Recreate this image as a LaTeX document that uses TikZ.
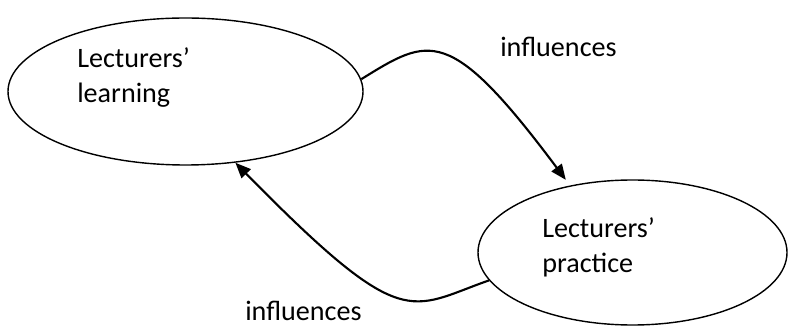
\documentclass[tikz,border=0pt]{standalone}
\usepackage{fontspec}
\setmainfont{Carlito}
\usetikzlibrary{arrows.meta,shapes.geometric}

\begin{document}
\begin{tikzpicture}[
    bubble/.style={
      draw=black,
      ellipse,
      line width=1pt,
      inner sep=0pt
    },
    arr/.style={
      -{Triangle[length=11pt,width=9pt]},
      line width=1.5pt
    },
    lbl/.style={
      font=\fontsize{20}{25}\selectfont,
      align=left,
      anchor=west,
      inner sep=0pt
    }
  ]
  \useasboundingbox (0,0) rectangle (19.7,8.175);

  \node[bubble, minimum width=8.875cm, minimum height=3.675cm] (learning) at (4.6375,5.8875) {};
  \node[bubble, minimum width=7.725cm, minimum height=3.625cm] (practice) at (15.8125,1.8625) {};

  \node[lbl] (learningtext) at (1.925,6.2375) {Lecturers’\\learning};
  \node[lbl] (practicetext) at (13.55,1.9875) {Lecturers’\\practice};

  % Mutual influence
  \draw[arr, shorten >=5pt] (learning.4) .. controls +(1.7,1.05) and +(-3.025,4.05) .. (practice.133);
  \draw[arr] (practice.191) .. controls +(-2.0,-0.7) and +(4.225,-4.3) .. (learning.-55);

  \node[lbl, anchor=base west] (toplabel) at (12.5,6.75) {influences};
  \node[lbl, anchor=base west] (bottomlabel) at (6.125,0.15) {influences};

\end{tikzpicture}
\end{document}
